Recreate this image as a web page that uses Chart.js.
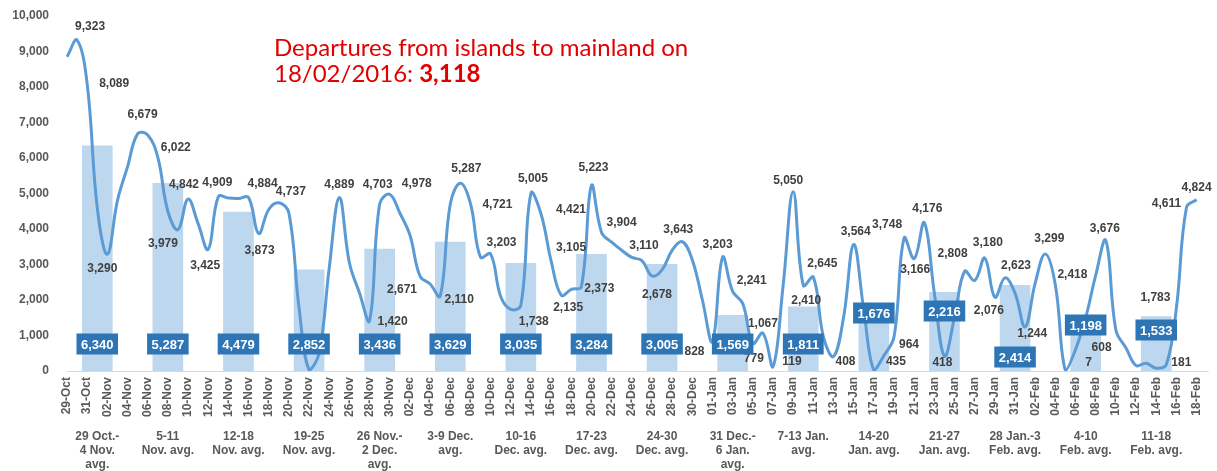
<!DOCTYPE html>
<html>
<head>
<meta charset="utf-8">
<script src="https://cdn.jsdelivr.net/npm/chart.js@4.4.1/dist/chart.umd.min.js"></script>
<style>
  body { margin: 0; background: #fff; }
  #wrap { position: relative; width: 1217px; height: 471px; }
  #title {
    position: absolute; left: 274px; top: 34px;
    font-family: Lato, sans-serif; font-size: 24px; line-height: 26px;
    color: #e20000; white-space: nowrap;
  }
</style>
</head>
<body>
<div id="wrap">
  <canvas id="chart" width="1217" height="471"></canvas>
  <div id="title">Departures from islands to mainland on<br>18/02/2016: <b>3,118</b></div>
</div>
<script>
// daily categories, 29 Oct 2015 - 18 Feb 2016
const days = [
  '29-Oct','30-Oct','31-Oct',
  '01-Nov','02-Nov','03-Nov','04-Nov','05-Nov','06-Nov','07-Nov','08-Nov','09-Nov','10-Nov',
  '11-Nov','12-Nov','13-Nov','14-Nov','15-Nov','16-Nov','17-Nov','18-Nov','19-Nov','20-Nov',
  '21-Nov','22-Nov','23-Nov','24-Nov','25-Nov','26-Nov','27-Nov','28-Nov','29-Nov','30-Nov',
  '01-Dec','02-Dec','03-Dec','04-Dec','05-Dec','06-Dec','07-Dec','08-Dec','09-Dec','10-Dec',
  '11-Dec','12-Dec','13-Dec','14-Dec','15-Dec','16-Dec','17-Dec','18-Dec','19-Dec','20-Dec',
  '21-Dec','22-Dec','23-Dec','24-Dec','25-Dec','26-Dec','27-Dec','28-Dec','29-Dec','30-Dec','31-Dec',
  '01-Jan','02-Jan','03-Jan','04-Jan','05-Jan','06-Jan','07-Jan','08-Jan','09-Jan','10-Jan',
  '11-Jan','12-Jan','13-Jan','14-Jan','15-Jan','16-Jan','17-Jan','18-Jan','19-Jan','20-Jan',
  '21-Jan','22-Jan','23-Jan','24-Jan','25-Jan','26-Jan','27-Jan','28-Jan','29-Jan','30-Jan','31-Jan',
  '01-Feb','02-Feb','03-Feb','04-Feb','05-Feb','06-Feb','07-Feb','08-Feb','09-Feb','10-Feb',
  '11-Feb','12-Feb','13-Feb','14-Feb','15-Feb','16-Feb','17-Feb','18-Feb'
];

// daily departures
const departures = [
  8850, 9323, 8089,
  4600, 3290, 4800, 5750, 6679, 6650, 6022, 4500, 3979, 4842,
  4150, 3425, 4909, 4870, 4860, 4884, 3873, 4550, 4737, 4450,
  1800, 30, 500, 2900, 4889, 3050, 2200, 1420, 4703, 4978,
  4450, 3830, 2671, 2450, 2110, 4700, 5287, 4721, 3203, 3300,
  2100, 1738, 1850, 5005, 4421, 3105, 2135, 2300, 2373, 5223,
  3904, 3630, 3400, 3200, 3110, 2678, 2850, 3400, 3643, 3130, 2000,
  828, 3203, 2241, 1900, 779, 1067, 119, 2400, 5050, 2410,
  2645, 960, 408, 1520, 3564, 1720, 20, 435, 964, 3748,
  3166, 4176, 2190, 418, 1520, 2808, 2550, 3180, 2076, 2623, 2190,
  1244, 2480, 3299, 2418, 7, 608, 1500, 2700, 3676, 1150,
  650, 150, 220, 80, 181, 1783, 4611, 4824
];

// weekly averages, placed on the middle day of each week
const weekMid = ['01-Nov','08-Nov','15-Nov','22-Nov','29-Nov','06-Dec','13-Dec','20-Dec',
                 '27-Dec','03-Jan','10-Jan','17-Jan','24-Jan','31-Jan','07-Feb','14-Feb'];
const weekAvg = [6340, 5287, 4479, 2852, 3436, 3629, 3035, 3284,
                 3005, 1569, 1811, 1676, 2216, 2414, 1198, 1533];
const weekNames = [
  ['29 Oct.-', '4 Nov.', 'avg.'], ['5-11', 'Nov. avg.'], ['12-18', 'Nov. avg.'], ['19-25', 'Nov. avg.'],
  ['26 Nov.-', '2 Dec.', 'avg.'], ['3-9 Dec.', 'avg.'], ['10-16', 'Dec. avg.'], ['17-23', 'Dec. avg.'],
  ['24-30', 'Dec. avg.'], ['31 Dec.-', '6 Jan.', 'avg.'], ['7-13 Jan.', 'avg.'], ['14-20', 'Jan. avg.'],
  ['21-27', 'Jan. avg.'], ['28 Jan.-3', 'Feb. avg.'], ['4-10', 'Feb. avg.'], ['11-18', 'Feb. avg.']
];

// where each labelled day puts its number, offset from the point (px)
const labelAt = {
  1: [13, -13], 2: [27, 0], 4: [-5, 14], 7: [5, -19], 9: [18, -10], 11: [-15, 14], 12: [-4, -14],
  14: [-3, 16], 15: [-1, -14], 18: [14, -14], 19: [1, 17], 21: [12, -11], 27: [0, -13],
  30: [23, 1], 31: [-2, -19], 32: [27, -11], 35: [-18, 14], 37: [19, 4], 39: [6, -15],
  40: [27, 1], 41: [21, -15], 44: [23, 12], 46: [2, -15], 47: [30, -4], 48: [20, -13],
  49: [7, 12], 51: [18, 2], 52: [2, -18], 53: [20, -10], 57: [2, -15], 58: [5, 19],
  61: [-4, -12], 64: [-18, 10], 65: [-5, -13], 66: [19, -11], 68: [1, 15], 69: [0, -9],
  70: [19, -5], 72: [-5, -11], 73: [3, 15], 74: [9, -13], 76: [12, 5], 78: [2, -13],
  81: [12, 6], 82: [15, 8], 83: [-17, -13], 84: [1, 11], 85: [3, -14], 87: [-2, 7],
  89: [-12, -18], 91: [3, -15], 92: [-6, 13], 93: [11, -12], 95: [7, 7], 97: [4, -15],
  98: [17, -10], 99: [23, -8], 100: [26, -2], 103: [-1, -12], 109: [15, -2],
  110: [-21, -10], 111: [-20, -4], 112: [0, -12]
};
// height of the average boxes above the axis (px)
const boxLift = { 11: 58, 12: 60, 13: 14, 14: 46, 15: 41 };

const fmt = v => v.toLocaleString('en-US');
const FONT = '"Liberation Sans", Arial, sans-serif';

const drawLabels = {
  id: 'drawLabels',
  afterDatasetsDraw(chart) {
    const ctx = chart.ctx;
    const area = chart.chartArea;
    const line = chart.getDatasetMeta(0);
    const bars = chart.getDatasetMeta(1);
    ctx.save();

    // axis line runs a little past the last day
    ctx.strokeStyle = '#D9D9D9';
    ctx.lineWidth = 1;
    ctx.beginPath();
    ctx.moveTo(area.left, area.bottom + 0.5);
    ctx.lineTo(area.right + 12, area.bottom + 0.5);
    ctx.stroke();

    ctx.textAlign = 'center';
    ctx.textBaseline = 'middle';

    ctx.font = 'bold 12px ' + FONT;
    ctx.fillStyle = '#404040';
    Object.keys(labelAt).forEach(k => {
      const p = line.data[k];
      ctx.fillText(fmt(departures[k]), p.x + labelAt[k][0], p.y + labelAt[k][1]);
    });

    ctx.font = 'bold 13px ' + FONT;
    bars.data.forEach((b, i) => {
      const txt = fmt(weekAvg[i]);
      const w = ctx.measureText(txt).width + 9;
      const cy = area.bottom - (boxLift[i] || 27);
      ctx.fillStyle = '#2E75B6';
      ctx.fillRect(b.x - w / 2, cy - 10.5, w, 21);
      ctx.fillStyle = '#ffffff';
      ctx.fillText(txt, b.x, cy + 1);
    });

    ctx.font = 'bold 12px ' + FONT;
    ctx.fillStyle = '#595959';
    bars.data.forEach((b, i) => {
      weekNames[i].forEach((t, j) => {
        ctx.fillText(t, b.x, area.bottom + 66 + j * 14);
      });
    });
    ctx.restore();
  }
};

new Chart(document.getElementById('chart'), {
  type: 'line',
  data: {
    labels: days,
    datasets: [{
      type: 'line',
      data: departures,
      borderColor: '#5B9BD5',
      borderWidth: 3,
      pointRadius: 0,
      tension: 0.4,
      order: 0
    }, {
      type: 'bar',
      data: weekMid.map((d, i) => ({ x: d, y: weekAvg[i] })),
      backgroundColor: '#BDD7EE',
      barThickness: 30,
      order: 1
    }]
  },
  options: {
    responsive: false,
    animation: false,
    layout: { padding: { top: 16, right: 19, left: 0, bottom: 0 } },
    plugins: { legend: { display: false }, tooltip: { enabled: false } },
    scales: {
      x: {
        offset: false,
        grid: { display: false, drawTicks: false },
        border: { color: '#D9D9D9' },
        ticks: {
          autoSkip: false,
          minRotation: 90,
          maxRotation: 90,
          padding: 6,
          color: '#595959',
          font: { family: FONT, size: 12, weight: 'bold' },
          callback: (v, i) => i % 2 === 0 ? days[i] : ''
        },
        afterFit: s => { s.height = 100; }
      },
      y: {
        min: 0,
        max: 10000,
        grid: { display: false, drawTicks: false },
        border: { display: false },
        ticks: {
          stepSize: 1000,
          padding: 18,
          color: '#595959',
          font: { family: FONT, size: 12, weight: 'bold' },
          callback: v => fmt(v)
        },
        afterFit: s => { s.width = 67; s.paddingTop = 0; s.paddingBottom = 0; }
      }
    }
  },
  plugins: [drawLabels]
});
</script>
</body>
</html>
